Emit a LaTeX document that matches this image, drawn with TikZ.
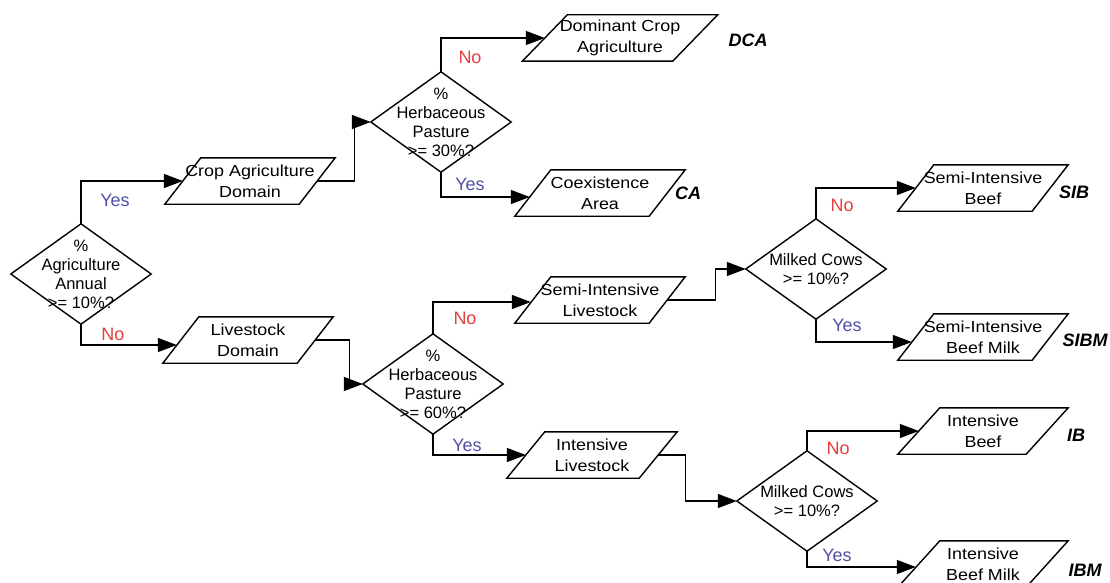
\documentclass[tikz,border=0pt]{standalone}
\usepackage{fontspec}
\setmainfont{Liberation Sans}
\newfontfamily\boxfont{Liberation Sans}[FakeStretch=1.12]
\usetikzlibrary{arrows.meta}
\definecolor{yescol}{RGB}{80,80,165}
\definecolor{nocol}{RGB}{228,62,62}
\begin{document}
\begin{tikzpicture}[x=1pt,y=-1pt,
  lw/.style={line width=1.4pt},
  iobox/.style={inner sep=0pt, minimum width=170pt, minimum height=46pt, align=center,
    font=\boxfont\fontsize{16}{21}\selectfont},
  dec/.style={inner sep=0pt, minimum width=140pt, minimum height=100pt, align=center,
    font=\fontsize{16.5}{19}\selectfont},
  conn/.style={line width=1.4pt, -{Triangle[length=19pt,width=14pt]}},
  yeslbl/.style={text=yescol, font=\fontsize{18}{20}\selectfont},
  nolbl/.style={text=nocol, font=\fontsize{18}{20}\selectfont},
  code/.style={font=\fontsize{18}{20}\selectfont\bfseries\itshape},
]
\useasboundingbox (0,0) rectangle (1110,583);

% decisions
\node[dec] (d1) at (81,274) {\%\\Agriculture\\Annual\\>= 10\%?};
\node[dec] (d2) at (441,122) {\%\\Herbaceous\\Pasture\\>= 30\%?};
\node[dec] (d3) at (433,384) {\%\\Herbaceous\\Pasture\\>= 60\%?};
\node[dec] (d4) at (816,269) {Milked Cows\\>= 10\%?};
\node[dec] (d5) at (807,501) {Milked Cows\\>= 10\%?};

% boxes
\node[iobox] (crop) at (250,181) {Crop Agriculture\\Domain};
\node[iobox] (live) at (248,340) {Livestock\\Domain};
\node[iobox, minimum width=195pt] (dca) at (620,38) {Dominant Crop\\Agriculture};
\node[iobox] (ca) at (600,193) {Coexistence\\Area};
\node[iobox] (sil) at (600,300) {Semi-Intensive\\Livestock};
\node[iobox] (il) at (592,455) {Intensive\\Livestock};
\node[iobox] (sib) at (983,188) {Semi-Intensive\\Beef};
\node[iobox] (sibm) at (983,337) {Semi-Intensive\\Beef Milk};
\node[iobox] (ib) at (983,431) {Intensive\\Beef};
\node[iobox] (ibm) at (983,564) {Intensive\\Beef Milk};

% outlines
\foreach \n in {d1,d2,d3,d4,d5}
  \draw[lw] (\n.north) -- (\n.east) -- (\n.south) -- (\n.west) -- cycle;
\foreach \n/\s in {crop/36,live/36,dca/45,ca/36,sil/36,il/38,sib/36,sibm/36,ib/42,ibm/42}
  \draw[lw] ([xshift=\s]\n.north west) -- (\n.north east) -- ([xshift=-\s]\n.south east) -- (\n.south west) -- cycle;

% connectors
\draw[conn] (d1.north) |- ([xshift=18]crop.west);
\draw[conn] (d1.south) |- ([xshift=14,yshift=-5]live.west);
\draw[conn] ([xshift=-18]crop.east) -- ++(37,0) |- (d2.west);
\draw[conn] (d2.north) |- ([xshift=22.5]dca.west);
\draw[conn] (d2.south) |- ([xshift=15,yshift=-4]ca.west);
\draw[conn] ([xshift=-18]live.east) -- ++(34,0) |- (d3.west);
\draw[conn] (d3.north) |- ([xshift=16,yshift=-2]sil.west);
\draw[conn] (d3.south) |- ([xshift=19]il.west);
\draw[conn] ([xshift=-18]sil.east) -- ++(48,0) |- (d4.west);
\draw[conn] ([xshift=-19]il.east) -- ++(27,0) |- (d5.west);
\draw[conn] (d4.north) |- ([xshift=18]sib.west);
\draw[conn] (d4.south) |- ([xshift=14,yshift=-5]sibm.west);
\draw[conn] (d5.north) |- ([xshift=21]ib.west);
\draw[conn] (d5.south) |- ([xshift=18,yshift=-3]ibm.west);

% yes / no labels
\node[yeslbl] (y1) at (115,200) {Yes};
\node[nolbl]  (n1) at (113,334) {No};
\node[nolbl]  (n2) at (470,57) {No};
\node[yeslbl] (y2) at (470,184) {Yes};
\node[nolbl]  (n3) at (465,318) {No};
\node[yeslbl] (y3) at (467,445) {Yes};
\node[nolbl]  (n4) at (842,205) {No};
\node[yeslbl] (y4) at (847,325) {Yes};
\node[nolbl]  (n5) at (838,448) {No};
\node[yeslbl] (y5) at (837,555) {Yes};

% codes
\node[code] (cdca) at (748,40) {DCA};
\node[code] (cca) at (688,193) {CA};
\node[code] (csib) at (1074,192) {SIB};
\node[code] (csibm) at (1085,340) {SIBM};
\node[code] (cib) at (1076,435) {IB};
\node[code] (cibm) at (1085,570) {IBM};
\end{tikzpicture}
\end{document}
